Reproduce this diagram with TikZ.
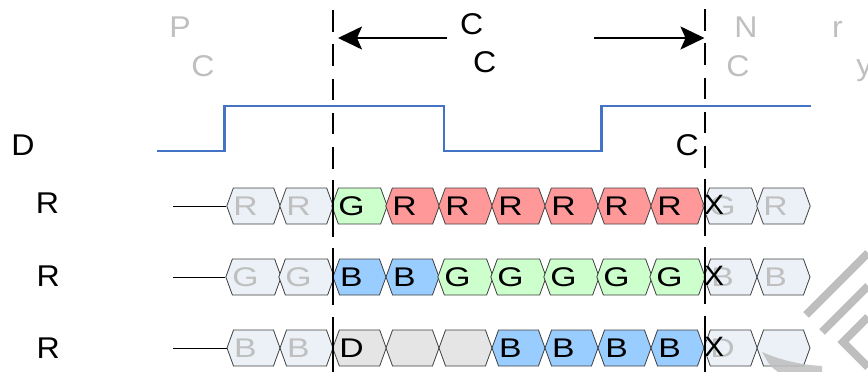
\documentclass[tikz,border=0pt]{standalone}
\definecolor{wavblue}{RGB}{68,114,196}
\definecolor{ghostfill}{RGB}{236,241,248}
\definecolor{ghosttext}{RGB}{191,191,191}
\definecolor{greenfill}{RGB}{204,255,204}
\definecolor{redfill}{RGB}{255,153,153}
\definecolor{bluefill}{RGB}{153,204,255}
\definecolor{idlefill}{RGB}{229,229,229}
\definecolor{cellborder}{RGB}{64,64,64}
\definecolor{markgray}{RGB}{190,190,190}
\usepackage{fontspec}
\setmainfont{Liberation Sans}[FakeStretch=1.07]
\newfontfamily\cellfont[FakeStretch=1.25]{Liberation Sans}
\usepackage{tikz}
\usetikzlibrary{shapes.symbols,arrows.meta}

\begin{document}
\begin{tikzpicture}[x=1pt,y=-1pt]

%
% Styles
%
\tikzstyle{lbl}    = [font=\fontsize{30}{30}\selectfont,anchor=base,inner sep=0pt]
\tikzstyle{faded}  = [lbl,text=ghosttext]
\tikzstyle{cell}   = [shape=signal,signal to=west and east,signal pointer angle=140,
                      draw=cellborder,line width=0.8pt,minimum width=53pt,minimum height=36pt,
                      inner sep=0pt,font=\cellfont\fontsize{27}{27}\selectfont,
                      execute at end node={\hspace*{16pt}}]
\tikzstyle{xmark}  = [font=\fontsize{28}{28}\selectfont,inner sep=0pt]
\tikzstyle{guide}  = [line width=2.2pt,dash pattern=on 21.5pt off 12.75pt on 21.5pt off 12.75pt
                      on 21.5pt off 12.75pt on 21.5pt off 12.75pt on 21.5pt off 11.5pt
                      on 57pt off 11pt on 57pt off 12pt on 60pt]
\tikzstyle{gap}    = [line width=2pt,-{Stealth[length=24pt,width=23pt,inset=5pt]}]
\tikzstyle{wave}   = [wavblue,line width=2.2pt]
\tikzstyle{lead}   = [line width=1pt]
\tikzstyle{stripe} = [markgray,line width=8pt]

\useasboundingbox (0,0) rectangle (868,372);

% top texts
\node[faded] (prevP) at (180,37)   {P};
\node[faded] (prevC) at (203,76.3) {C};
\node[lbl]   (midC)  at (471.7,34.3) {C};
\node[lbl]   (midC2) at (484.7,72) {C};
\node[faded] (nextN) at (746,37)   {N};
\node[faded] (nextC) at (738,76)   {C};
\node[faded] (nextr) at (837.5,37.3) {r};
\node[faded] (nexty) at (864.5,75.5) {y};

% signal
\node[lbl] (sigD) at (23,155)    {D};
\node[lbl] (sigC) at (687.3,155) {C};
\draw[wave] (157,151) -- (224.5,151) -- (224.5,106) -- (444,106) -- (444,151)
            -- (601.5,151) -- (601.5,106) -- (811,106);

% lanes
\node[lbl] (laneA) at (47.5,213.3) {R};
\node[lbl] (laneB) at (48.3,286.7) {R};
\node[lbl] (laneC) at (48.3,358.3) {R};

\foreach \f/\t/\c [count=\i from 0] in {ghostfill/R/ghosttext,ghostfill/R/ghosttext,
    greenfill/G/black,redfill/R/black,redfill/R/black,redfill/R/black,redfill/R/black,
    redfill/R/black,redfill/R/black,ghostfill/G/ghosttext,ghostfill/R/ghosttext}
  \node[cell,fill=\f,text=\c] (a\i) at ({253.5+53*\i},206) {\t};

\foreach \f/\t/\c [count=\i from 0] in {ghostfill/G/ghosttext,ghostfill/G/ghosttext,
    bluefill/B/black,bluefill/B/black,greenfill/G/black,greenfill/G/black,greenfill/G/black,
    greenfill/G/black,greenfill/G/black,ghostfill/B/ghosttext,ghostfill/B/ghosttext}
  \node[cell,fill=\f,text=\c] (b\i) at ({253.5+53*\i},277) {\t};

\foreach \f/\t/\c [count=\i from 0] in {ghostfill/B/ghosttext,ghostfill/B/ghosttext,
    idlefill/{\raisebox{-5pt}{D}}/black,idlefill/{}/black,idlefill/{}/black,
    bluefill/B/black,bluefill/B/black,bluefill/B/black,bluefill/B/black,
    ghostfill/{\raisebox{-5pt}{D}}/ghosttext,ghostfill/{}/ghosttext}
  \node[cell,fill=\f,text=\c] (c\i) at ({253.5+53*\i},348) {\t};

\coordinate (leadA) at (173,206);
\coordinate (leadB) at (173,277);
\coordinate (leadC) at (173,348);
\draw[lead] (leadA) -- (a0.west);
\draw[lead] (leadB) -- (b0.west);
\draw[lead] (leadC) -- (c0.west);

\node[xmark] (xa) at (714,204.5) {X};
\node[xmark] (xb) at (714,275.5) {X};
\node[xmark] (xc) at (714,346.5) {X};

% guides and gap
\coordinate (startTop) at (332.7,10);
\coordinate (startBot) at (332.7,372);
\coordinate (endTop)   at (705,9);
\coordinate (endBot)   at (705,372);
\draw[guide] (startTop) -- (startBot);
\draw[guide] (endTop) -- (endBot);

\coordinate (gapL)  at (447,38);
\coordinate (gapLe) at (338,38);
\coordinate (gapR)  at (594,38);
\coordinate (gapRe) at (704.5,38);
\draw[gap] (gapL) -- (gapLe);
\draw[gap] (gapR) -- (gapRe);

% mark
\draw[stripe] (806,315) -- (868,253);
\draw[stripe] (822,332) -- (868,286);
\draw[stripe] (868,317) -- (843,342) -- (868,367);
\fill[markgray,opacity=0.85] (762,352) .. controls (785,362) and (805,365) .. (822,366)
     -- (822,372) -- (778,372) .. controls (770,366) .. (762,352);

\end{tikzpicture}
\end{document}
